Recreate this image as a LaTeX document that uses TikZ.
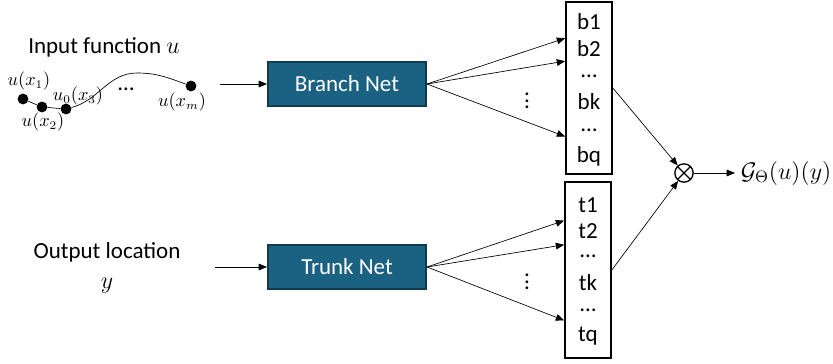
\documentclass[tikz,border=0pt]{standalone}
\usepackage{fontspec}
\setmainfont{Carlito}
\usetikzlibrary{arrows.meta, positioning, calc}

\definecolor{netblue}{HTML}{1A6182}
\definecolor{netedge}{HTML}{0F3A4F}

\begin{document}
\begin{tikzpicture}[
  x=0.6pt, y=-0.6pt,
  font=\fontsize{13.8}{16}\selectfont,
  net/.style={rectangle, draw=netedge, line width=1pt, fill=netblue,
              text=white, minimum width=95pt, minimum height=26.5pt},
  coef/.style={rectangle, draw, line width=1pt, minimum width=27.6pt},
  entry/.style={inner sep=1pt},
  sample/.style={circle, fill, inner sep=0pt, minimum size=6.5pt},
  lbl/.style={font=\fontsize{10.5}{12}\selectfont, inner sep=1pt},
  prod/.style={circle, draw, thick, minimum size=11pt, inner sep=0pt,
               path picture={\draw[thick]
                 (path picture bounding box.north west) -- (path picture bounding box.south east)
                 (path picture bounding box.north east) -- (path picture bounding box.south west);}},
  arrow/.style={-{Triangle[length=5pt, width=4pt]}, thin}
]
  \useasboundingbox (0,0) rectangle (833,363);

  % input function, sampled at the sensors
  \node (intitle) at (104,47) {Input function $u$};
  \node[sample] (s1) at (23,99) {};
  \node[sample] (s2) at (42,107) {};
  \node[sample] (s3) at (66,109) {};
  \node[sample] (sm) at (191,86) {};
  \coordinate (peak) at (137,73);
  \draw (s1) -- (s2) -- (s3) to[out=15, in=180] (peak) to[out=0, in=160] (sm);
  \node[lbl] (l1) at (29,81) {$u(x_1)$};
  \node[lbl] (l2) at (43,122) {$u(x_2)$};
  \node[lbl] (l3) at (78,96) {$u_0(x_3)$};
  \node[lbl] (lm) at (182,102) {$u(x_m)$};
  \node (sdots) at (126,89) {\dots};

  \node[align=center] (outtitle) at (107,268) {Output location\\[2pt]$y$};

  % the two sub-networks
  \node[net] (branch) at (347,84) {Branch Net};
  \node[net] (trunk) at (347,267) {Trunk Net};
  \coordinate (uin) at (220,84);
  \coordinate (yin) at (215,267);
  \draw[arrow] (uin) -- (branch);
  \draw[arrow] (yin) -- (trunk);

  % branch outputs
  \node[coef, minimum height=103pt] (bbox) at (589,88) {};
  \node[entry] (b1) at (589,22) {b1};
  \node[entry] (b2) at (589,49) {b2};
  \node[entry] (bd1) at (589,76) {\dots};
  \node[entry] (bk) at (589,102) {bk};
  \node[entry] (bd2) at (589,130) {\dots};
  \node[entry] (bq) at (589,156) {bq};

  % trunk outputs
  \node[coef, minimum height=105.6pt] (tbox) at (588,270) {};
  \node[entry] (t1) at (588,205) {t1};
  \node[entry] (t2) at (588,231) {t2};
  \node[entry] (td1) at (588,256) {\dots};
  \node[entry] (tk) at (588,283) {tk};
  \node[entry] (td2) at (588,310) {\dots};
  \node[entry] (tq) at (588,336) {tq};

  \coordinate (bin1) at ($(b1)!0.6!(b2)$);
  \coordinate (bin2) at ($(b2)!0.45!(bd1)$);
  \coordinate (bin3) at ($(bd2)!0.25!(bq)$);
  \draw[arrow] (branch.east) -- (bin1 -| bbox.west);
  \draw[arrow] (branch.east) -- (bin2 -| bbox.west);
  \draw[arrow] (branch.east) -- (bin3 -| bbox.west);
  \node[inner sep=0pt] (bvdots) at (527,96) {$\vdots$};

  \coordinate (tin1) at ($(t1)!0.6!(t2)$);
  \coordinate (tin2) at ($(t2)!0.55!(td1)$);
  \coordinate (tin3) at ($(td2)!0.4!(tq)$);
  \draw[arrow] (trunk.east) -- (tin1 -| tbox.west);
  \draw[arrow] (trunk.east) -- (tin2 -| tbox.west);
  \draw[arrow] (trunk.east) -- (tin3 -| tbox.west);
  \node[inner sep=0pt] (tvdots) at (527,277) {$\vdots$};

  % dot product of the two outputs
  \node[prod] (dot) at (684,173) {};
  \node[anchor=west, font=\fontsize{14}{16}\selectfont] (out) at (735,173) {$\mathcal{G}_\Theta(u)(y)$};
  \draw[arrow] (bbox.east) -- (dot);
  \draw[arrow] (tbox.east) -- (dot);
  \draw[arrow] (dot) -- (out);
\end{tikzpicture}
\end{document}
